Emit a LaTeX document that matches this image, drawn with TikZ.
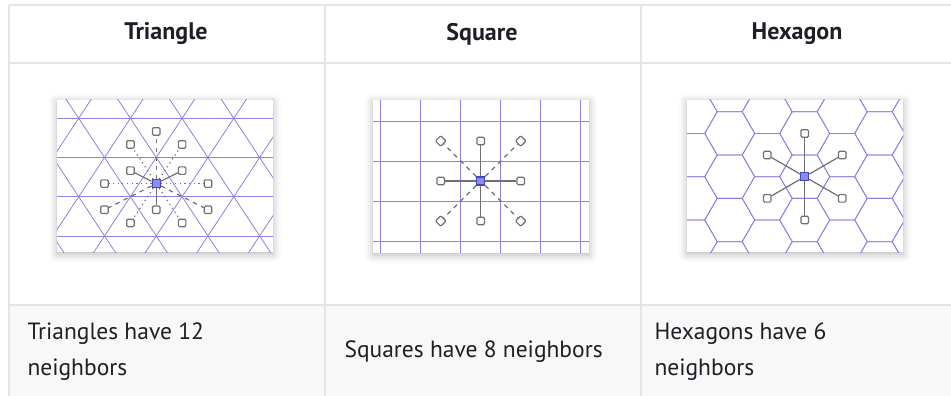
\documentclass[tikz,border=0pt]{standalone}
\usepackage{fontspec}
\setmainfont{PT Sans}
\usetikzlibrary{shadows.blur}
\definecolor{gridline}{RGB}{140,130,226}
\definecolor{rule}{RGB}{228,228,228}
\definecolor{rowbg}{RGB}{248,248,248}
\definecolor{nbrgray}{RGB}{112,112,112}
\definecolor{ctrfill}{RGB}{140,140,240}
\definecolor{ctrdraw}{RGB}{70,70,190}
\definecolor{ink}{RGB}{28,32,38}
\tikzset{
  grid line/.style={gridline, line width=0.8pt},
  panel/.style={fill=white, blur shadow={shadow xshift=0pt, shadow yshift=-2pt,
      shadow blur radius=8pt, shadow opacity=30}},
  nbr/.style={draw=nbrgray, fill=white, line width=1.2pt, rounded corners=1.2pt,
      minimum size=7.5pt, inner sep=0pt},
  ctr/.style={draw=ctrdraw, fill=ctrfill, line width=1.2pt, minimum size=8pt, inner sep=0pt},
  edge link/.style={nbrgray, line width=1.2pt},
  corner link/.style={nbrgray, line width=1.2pt, dash pattern=on 4.5pt off 4.5pt},
  far link/.style={nbrgray, line width=1.2pt, dash pattern=on 1.2pt off 3.5pt},
  head/.style={font=\fontsize{24}{28}\selectfont\bfseries, text=ink},
  body/.style={font=\fontsize{23.5}{36}\selectfont, text=ink, align=left, anchor=west},
}
\begin{document}
\begin{tikzpicture}[x=1pt, y=-1pt]
  \useasboundingbox (0,0) rectangle (951,396);
  % table
  \fill[rowbg] (9,305) rectangle (951,396);
  \draw[rule, line width=1.5pt] (9,5) -- (951,5) (9,63) -- (951,63) (9,305) -- (951,305);
  \foreach \x in {9,325,641}
    \draw[rule, line width=1.5pt] (\x,5) -- (\x,396);
  \node[head] (headtri) at (166,34) {Triangle};
  \node[head] (headsq) at (482,34) {Square};
  \node[head] (headhex) at (797,34) {Hexagon};
  \node[body] (bodytri) at (24,352) {Triangles have 12\\neighbors};
  \node[body] (bodysq) at (341,352) {Squares have 8 neighbors};
  \node[body] (bodyhex) at (651,352) {Hexagons have 6\\neighbors};
  % panels
  \path[panel] (57,100) rectangle (273,252);
  \path[panel] (373,100) rectangle (589,253);
  \path[panel] (687,100) rectangle (903,252);
  % triangle grid
  \begin{scope}
    \clip (57,100) rectangle (273,252);
    \foreach \r in {-1,...,4}
      \draw[grid line] (57,118.3+39.2*\r) -- (273,118.3+39.2*\r);
    \foreach \k in {-3,...,7} {
      \draw[grid line] (78.7+51.7*\k-103.4,-38.5) -- (78.7+51.7*\k+103.4,275.1);
      \draw[grid line] (78.7+51.7*\k+103.4,-38.5) -- (78.7+51.7*\k-103.4,275.1);
    }
  \end{scope}
  % square grid
  \begin{scope}
    \clip (373,100) rectangle (589,253);
    \foreach \i in {0,...,5}
      \draw[grid line] (380.7+40*\i,100) -- (380.7+40*\i,253);
    \foreach \j in {0,...,3}
      \draw[grid line] (373,121+40*\j) -- (589,121+40*\j);
  \end{scope}
  % hexagon grid
  \begin{scope}
    \clip (687,100) rectangle (903,252);
    \foreach \c in {-4,...,4}
      \foreach \j in {-4,...,4}
        \draw[grid line, shift={(804.7+37.5*\c,176.7+43.3*\j+21.65*\c)}]
          (25,0) -- (12.5,21.65) -- (-12.5,21.65) -- (-25,0)
          -- (-12.5,-21.65) -- (12.5,-21.65) -- cycle;
  \end{scope}
  % triangle neighbors
  \node[ctr] (tc) at (156.2,183.6) {};
  \foreach \n/\x/\y in {t1/156.2/131.4, t2/130.4/144.4, t3/182.1/144.4,
      t4/130.4/170.6, t5/182.1/170.6, t6/104.5/183.6, t7/208/183.6,
      t8/104.5/209.8, t9/156.2/209.8, t10/208/209.8, t11/130.4/222.9, t12/182.1/222.9}
    \node[nbr] (\n) at (\x,\y) {};
  \foreach \n in {t4,t5,t9}
    \draw[edge link] (tc) -- (\n);
  \foreach \n in {t1,t8,t10}
    \draw[corner link] (tc) -- (\n);
  \foreach \n in {t2,t3,t6,t7,t11,t12}
    \draw[far link] (tc) -- (\n);
  % square neighbors
  \node[ctr] (sc) at (480.7,181) {};
  \foreach \n/\x/\y in {s2/480.7/141, s4/440.7/181, s5/520.7/181, s7/480.7/221}
    \node[nbr] (\n) at (\x,\y) {};
  \foreach \n/\x/\y in {s1/440.7/141, s3/520.7/141, s6/440.7/221, s8/520.7/221}
    \node[nbr, rotate=45] (\n) at (\x,\y) {};
  \foreach \n in {s2,s4,s5,s7}
    \draw[edge link] (sc) -- (\n);
  \foreach \n in {s1,s3,s6,s8}
    \draw[corner link] (sc) -- (\n);
  % hexagon neighbors
  \node[ctr] (hc) at (804.7,176.7) {};
  \foreach \n/\x/\y in {h1/804.7/133.4, h2/767.2/155.05, h3/842.2/155.05,
      h4/767.2/198.35, h5/842.2/198.35, h6/804.7/220}
    \node[nbr] (\n) at (\x,\y) {};
  \foreach \n in {h1,h2,h3,h4,h5,h6}
    \draw[edge link] (hc) -- (\n);
\end{tikzpicture}
\end{document}
